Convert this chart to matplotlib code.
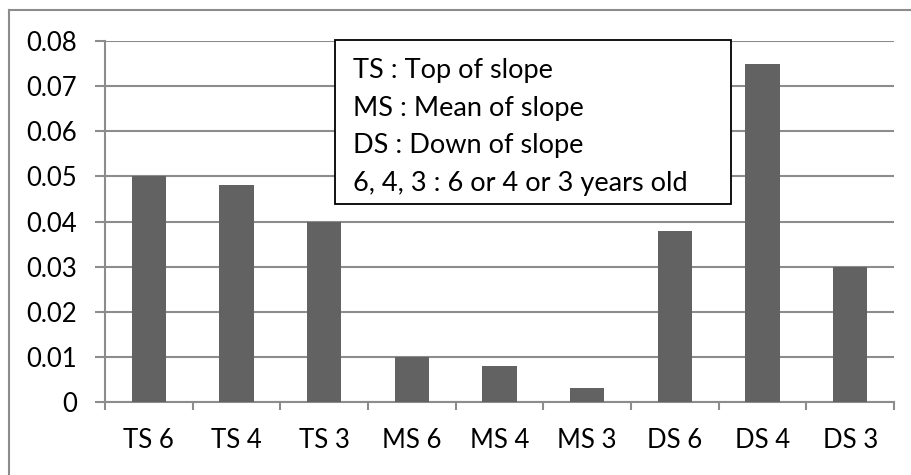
import matplotlib.pyplot as plt
from matplotlib.lines import Line2D
from matplotlib.patches import Rectangle

categories = ["TS 6", "TS 4", "TS 3", "MS 6", "MS 4", "MS 3", "DS 6", "DS 4", "DS 3"]
values = [0.050, 0.048, 0.040, 0.010, 0.008, 0.003, 0.038, 0.075, 0.030]
y_ticks = [0, 0.01, 0.02, 0.03, 0.04, 0.05, 0.06, 0.07, 0.08]
y_labels = ["0", "0.01", "0.02", "0.03", "0.04", "0.05", "0.06", "0.07", "0.08"]
note_lines = ["TS : Top of slope", "MS : Mean of slope", "DS : Down of slope",
              "6, 4, 3 : 6 or 4 or 3 years old"]

plt.rcParams['font.family'] = ['Lato', 'DejaVu Sans']
W, H = 912, 475
FS = 18.5
GRAY = '#8c8c8c'
fig = plt.figure(figsize=(W / 100, H / 100), dpi=100)

# outer chart frame (only left and top edges visible)
fig.add_artist(Line2D([9 / W, 9 / W], [0, 1 - 10 / H], color=GRAY, lw=1.5))
fig.add_artist(Line2D([9 / W, 1], [1 - 10 / H, 1 - 10 / H], color=GRAY, lw=1.5))

left, right, top, bottom = 105, 894, 41, 402
ax = fig.add_axes([left / W, 1 - bottom / H, (right - left) / W, (bottom - top) / H])

x = range(len(categories))
ax.bar(x, values, width=0.39, color='#626262', zorder=3)
ax.set_xlim(-0.5, len(categories) - 0.5)
ax.set_ylim(0, 0.08)

ax.set_yticks(y_ticks)
ax.set_yticklabels(y_labels, fontsize=FS)
ax.set_xticks([i - 0.5 for i in range(len(categories) + 1)])
ax.set_xticklabels([])
ax.set_xticks(list(x), minor=True)
ax.set_xticklabels(categories, minor=True, fontsize=FS)
ax.tick_params(axis='x', which='minor', length=0, pad=19)
ax.tick_params(axis='x', which='major', length=6, color=GRAY, width=1.5)
ax.tick_params(axis='y', length=7, color=GRAY, width=1.5, pad=13)

ax.grid(axis='y', color=GRAY, lw=1.5, zorder=0)
for side in ['top', 'right']:
    ax.spines[side].set_visible(False)
for side in ['left', 'bottom']:
    ax.spines[side].set_color(GRAY)
    ax.spines[side].set_linewidth(1.5)

# note box
fig.add_artist(Rectangle((335 / W, 1 - 204 / H), (731 - 335) / W, (204 - 40) / H,
                         transform=fig.transFigure, fc='white', ec='black', lw=1.3,
                         zorder=5))
fig.text(353 / W, 1 - 58 / H, "\n".join(note_lines), fontsize=19.5, va='top', ha='left',
         linespacing=1.63, zorder=6)

fig.savefig("out.png", dpi=100)
